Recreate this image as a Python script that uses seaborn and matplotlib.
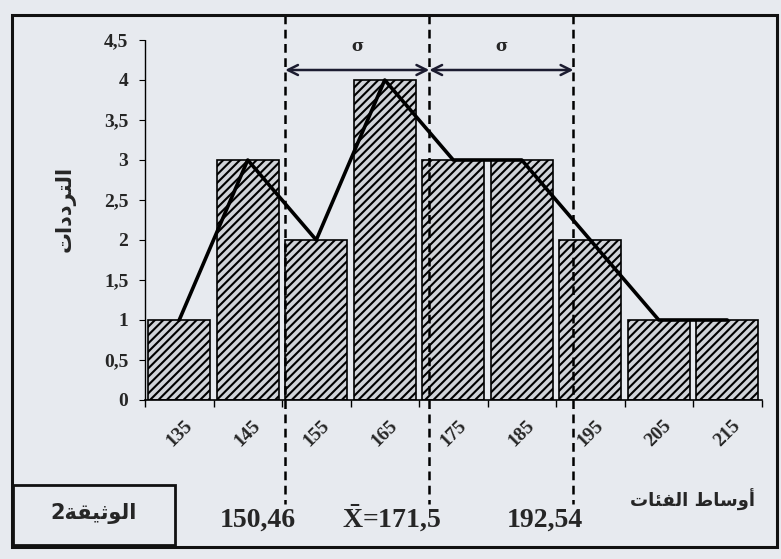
import matplotlib
matplotlib.use('Agg')
import matplotlib.pyplot as plt
from matplotlib.patches import Rectangle
import seaborn as sns

# البيانات
centers = [135, 145, 155, 165, 175, 185, 195, 205, 215]
freqs = [1, 3, 2, 4, 3, 3, 2, 1, 1]
yticks = [0, 0.5, 1, 1.5, 2, 2.5, 3, 3.5, 4, 4.5]
mean_x = 171.5
sigma_marks = [150.46, 171.5, 192.54]
class_width = 10

ylabel = 'الترددات'
xlabel = 'أوساط الفئات'
doc_label = 'الوثيقة2'

# تشكيل الحروف العربية (أشكال العرض) لأن matplotlib لا يقوم بذلك
FORMS = {
    'ا': ('\uFE8D', '\uFE8E', None, None),
    'أ': ('\uFE83', '\uFE84', None, None),
    'د': ('\uFEA9', '\uFEAA', None, None),
    'ر': ('\uFEAD', '\uFEAE', None, None),
    'و': ('\uFEED', '\uFEEE', None, None),
    'ة': ('\uFE93', '\uFE94', None, None),
    'ل': ('\uFEDD', '\uFEDE', '\uFEDF', '\uFEE0'),
    'ت': ('\uFE95', '\uFE96', '\uFE97', '\uFE98'),
    'س': ('\uFEB1', '\uFEB2', '\uFEB3', '\uFEB4'),
    'ط': ('\uFEC1', '\uFEC2', '\uFEC3', '\uFEC4'),
    'ف': ('\uFED1', '\uFED2', '\uFED3', '\uFED4'),
    'ئ': ('\uFE89', '\uFE8A', '\uFE8B', '\uFE8C'),
    'ث': ('\uFE99', '\uFE9A', '\uFE9B', '\uFE9C'),
    'ي': ('\uFEF1', '\uFEF2', '\uFEF3', '\uFEF4'),
    'ق': ('\uFED5', '\uFED6', '\uFED7', '\uFED8'),
}


def shape(text):
    out = []
    for i, c in enumerate(text):
        if c not in FORMS:
            out.append(c)
            continue
        iso, fin, ini, med = FORMS[c]
        prev = text[i - 1] if i > 0 else None
        nxt = text[i + 1] if i + 1 < len(text) else None
        join_prev = prev in FORMS and FORMS[prev][2] is not None
        join_next = nxt in FORMS and ini is not None
        if join_prev and join_next:
            out.append(med)
        elif join_prev:
            out.append(fin)
        elif join_next:
            out.append(ini)
        else:
            out.append(iso)
    return ''.join(out)[::-1]


sns.set_style('ticks')
plt.rcParams['font.family'] = ['Liberation Serif', 'DejaVu Sans']
plt.rcParams['font.weight'] = 'bold'
plt.rcParams['mathtext.fontset'] = 'custom'
plt.rcParams['mathtext.rm'] = 'Liberation Serif:bold'
plt.rcParams['mathtext.it'] = 'Liberation Serif:bold'
plt.rcParams['hatch.linewidth'] = 1.5
plt.rcParams['hatch.color'] = 'black'

bg = '#e7eaef'
fig = plt.figure(figsize=(7.81, 5.59), dpi=100, facecolor=bg)
ax = fig.add_axes([145 / 781, 1 - 400 / 559, 616.5 / 781, 360 / 559])
ax.set_facecolor('none')

labels = [str(c) for c in centers]
sns.barplot(x=labels, y=freqs, order=labels, width=0.905, color='#d0d3d8',
            edgecolor='black', linewidth=1.2, ax=ax, saturation=1)
for p in ax.patches:
    p.set_hatch('////')

# المضلع التكراري
ax.plot(range(len(centers)), freqs, color='black', lw=2.6, zorder=5)

ax.set_xlim(-0.5, len(centers) - 0.5)
ax.set_ylim(0, 4.5)
ax.set_yticks(yticks)
ax.set_yticklabels([('%g' % t).replace('.', ',') for t in yticks], fontsize=14)
ax.set_xticks(range(len(centers)))
ax.set_xticklabels(labels, rotation=45, fontsize=14)
ax.tick_params(axis='x', which='major', length=0, pad=12)
ax.set_xticks([i - 0.5 for i in range(len(centers) + 1)], minor=True)
ax.tick_params(axis='x', which='minor', length=5, width=1, color='black')
ax.tick_params(axis='y', length=4, width=0.8, color='black', pad=8)
sns.despine(ax=ax)
ax.spines['left'].set_linestyle((0, (1, 1)))
ax.spines['left'].set_linewidth(1)
ax.spines['bottom'].set_linewidth(1.2)
ax.spines['left'].set_color('black')
ax.spines['bottom'].set_color('black')
ax.set_xlabel('')
ax.set_ylabel('')


def to_pos(v):
    return (v - centers[0]) / class_width


# خطوط متقطعة ومجالات الانحراف المعياري
for v in sigma_marks:
    xi = to_pos(v)
    ax.plot([xi, xi], [1.07, -0.29], transform=ax.get_xaxis_transform(),
            ls=(0, (3.5, 2.2)), lw=1.8, color='black', clip_on=False, zorder=6)

y_arrow = 4.125
for a, b in zip(sigma_marks[:-1], sigma_marks[1:]):
    ax.annotate('', xy=(to_pos(b), y_arrow), xytext=(to_pos(a), y_arrow),
                arrowprops=dict(arrowstyle='<->', lw=1.8, color='#1c1c30',
                                mutation_scale=18, shrinkA=0, shrinkB=0),
                zorder=7)
    ax.text((to_pos(a) + to_pos(b)) / 2, 4.42, 'σ', ha='center', va='center',
            fontsize=12, family=['DejaVu Serif'])

# عناوين المحاور
ax.text(-0.13, 0.53, shape(ylabel), transform=ax.transAxes, rotation=90,
        ha='center', va='center', fontsize=15, family=['DejaVu Sans'], weight='bold')
fig.text(692 / 781, 1 - 500 / 559, shape(xlabel), ha='center', va='center',
         fontsize=13, family=['DejaVu Sans'], weight='bold')

# القيم أسفل الشكل
fig.text(258 / 781, 1 - 520 / 559, ('%g' % sigma_marks[0]).replace('.', ','),
         ha='center', va='center', fontsize=20)
fig.text(392 / 781, 1 - 518 / 559,
         r'$\bar{\mathrm{X}}$=' + ('%g' % mean_x).replace('.', ','),
         ha='center', va='center', fontsize=20)
fig.text(545 / 781, 1 - 520 / 559, ('%g' % sigma_marks[2]).replace('.', ','),
         ha='center', va='center', fontsize=20)

# الإطار الخارجي وإطار الوثيقة
fig.patches.append(Rectangle((12 / 781, 1 - 547 / 559), 765 / 781, 532 / 559,
                             transform=fig.transFigure, fill=False, lw=2.2,
                             ec='#111111'))
fig.patches.append(Rectangle((13 / 781, 1 - 545 / 559), 162 / 781, 60 / 559,
                             transform=fig.transFigure, fill=False, lw=2,
                             ec='#111111'))
fig.text(94 / 781, 1 - 514 / 559, shape(doc_label), ha='center', va='center',
         fontsize=15, family=['DejaVu Sans'], weight='bold')

fig.savefig('out.png', dpi=100, facecolor=bg)
